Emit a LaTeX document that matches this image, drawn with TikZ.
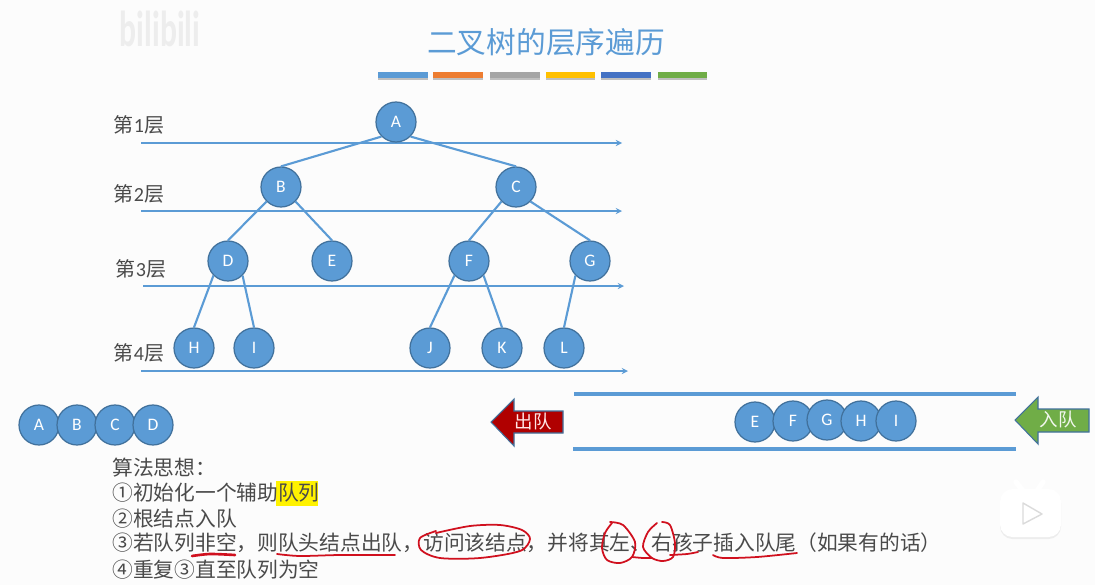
\documentclass[tikz,border=0pt]{standalone}
\usepackage{xcolor}
\usepackage{fontspec}
\setmainfont{Noto Sans CJK SC}
\newfontfamily\latinfont{Carlito}
\usetikzlibrary{shapes,arrows}
\definecolor{nodeblue}{HTML}{5B9BD5}
\definecolor{nodeedge}{HTML}{41719C}
\definecolor{textgray}{HTML}{4A4A4A}
\definecolor{penred}{HTML}{D0101E}
\definecolor{outred}{HTML}{B00000}
\definecolor{ingreen}{HTML}{70AD47}
\begin{document}
\begin{tikzpicture}[x=0.02cm,y=-0.02cm]
			\tikzset{noeud/.style={circle, draw=nodeedge, fill=nodeblue, line width=0.7pt, minimum size=0.8cm, inner sep=0pt, text=white, font=\latinfont\fontsize{10}{11}\selectfont},
				branche/.style={line width=1.2pt, nodeblue},
				niveau/.style={->, >=stealth, line width=0.6pt, nodeblue},
				couche/.style={text=textgray, inner sep=0pt, font=\fontsize{11.4}{13}\selectfont},
				ligne/.style={anchor=west, text=textgray, inner sep=0pt, font=\fontsize{11.8}{14}\selectfont},
				tuyau/.style={line width=2pt, nodeblue},
				stylo/.style={penred, line width=1pt, line cap=round}};
			\useasboundingbox (0,0) rectangle (1095,585);
			\fill[white!99!black] (0,0) rectangle (1095,585);
			\node[text=black!7, inner sep=0pt, font=\latinfont\bfseries\fontsize{18}{20}\selectfont] (logo) at (160,29) {\scalebox{1}[1.6]{bilibili}};
			\node[text=nodeblue, inner sep=0pt, font=\fontsize{16.9}{20}\selectfont] (titre) at (546,42) {二叉树的层序遍历};
			\foreach \xa/\xb/\coul in {378/428/5B9BD5,433/483/ED7D31,490/540/A5A5A5,546/595/FFC000,601/651/4472C4,658/707/70AD47}{
				\definecolor{tmpcoul}{HTML}{\coul}
				\fill[black!25] (\xa,74) rectangle (\xb,80);
				\fill[tmpcoul] (\xa,72) rectangle (\xb,78);
			}
			\foreach \nom/\xa/\xb/\y in {a/141/622/143,b/141/622/211,c/143/624/286,d/141/628/371}{
				\coordinate (debut\nom) at (\xa,\y);
				\coordinate (fin\nom) at (\xb,\y);
				\draw[niveau] (debut\nom) -- (fin\nom);
			}
			\node[couche] (couche1) at (139,125) {第{\latinfont 1}层};
			\node[couche] (couche2) at (139,194) {第{\latinfont 2}层};
			\node[couche] (couche3) at (141,269) {第{\latinfont 3}层};
			\node[couche] (couche4) at (139,353) {第{\latinfont 4}层};
			\node[noeud] (A) at (396,122) {A};
			\node[noeud] (B) at (281,187) {B};
			\node[noeud] (C) at (516,187) {C};
			\node[noeud] (D) at (228,261) {D};
			\node[noeud] (E) at (332,261) {E};
			\node[noeud] (F) at (469,261) {F};
			\node[noeud] (G) at (590,261) {G};
			\node[noeud] (H) at (194,348) {H};
			\node[noeud] (I) at (254,348) {I};
			\node[noeud] (J) at (430,348) {J};
			\node[noeud] (K) at (502,348) {K};
			\node[noeud] (L) at (564,348) {L};
			\foreach \a/\b in {A/B,B/D,C/F,D/H,F/J,G/L}
				\draw[branche] (\a.south west) -- (\b.north);
			\foreach \a/\b in {A/C,B/E,C/G,D/I,F/K}
				\draw[branche] (\a.south east) -- (\b.north);
			\node[noeud] (sortieA) at (39,425) {A};
			\node[noeud] (sortieB) at (77,425) {B};
			\node[noeud] (sortieC) at (115,425) {C};
			\node[noeud] (sortieD) at (153,425) {D};
			\coordinate (hautg) at (574,394);
			\coordinate (hautd) at (1016,394);
			\coordinate (basg) at (573,449);
			\coordinate (basd) at (1016,449);
			\draw[tuyau] (hautg) -- (hautd);
			\draw[tuyau] (basg) -- (basd);
			\node[noeud] (fileE) at (755,422) {E};
			\node[noeud] (fileF) at (793,421) {F};
			\node[noeud] (fileG) at (827,420) {G};
			\node[noeud] (fileH) at (861,421) {H};
			\node[noeud] (fileI) at (896,421) {I};
			\draw[fill=outred, draw=nodeedge, line width=0.6pt] (491,422) -- (514,399) -- (514,411) -- (563,411) -- (563,433) -- (514,433) -- (514,446) -- cycle;
			\node[text=white!90!red, inner sep=0pt, font=\fontsize{10.5}{12}\selectfont] (sortie) at (533,422) {出队};
			\draw[fill=ingreen, draw=nodeedge, line width=0.6pt] (1015,420) -- (1038,397) -- (1038,409) -- (1089,409) -- (1089,432) -- (1038,432) -- (1038,444) -- cycle;
			\node[text=white!90!ingreen, inner sep=0pt, font=\fontsize{10.5}{12}\selectfont] (entree) at (1058,420) {入队};
			\fill[yellow] (276,481) rectangle (318,506);
			\node[ligne] (algo0) at (112,468) {算法思想：};
			\node[ligne] (algo1) at (112,493) {①初始化一个辅助队列};
			\node[ligne] (algo2) at (112,519) {②根结点入队};
			\node[ligne] (algo3) at (112,543) {③若队列非空，则队头结点出队，访问该结点，并将其左、右孩子插入队尾（如果有的话）};
			\node[ligne] (algo4) at (112,570) {④重复③直至队列为空};
			\draw[stylo, line width=1.5pt] plot[smooth] coordinates {(192,556) (210,554) (235,555)};
			\draw[stylo] plot[smooth] coordinates {(277,554) (300,556) (340,555) (395,555)};
			\draw[stylo] plot[smooth] coordinates {(436,533) (470,526) (500,525) (522,530) (530,539) (520,551) (480,558) (440,558) (421,550) (420,538) (436,531)};
			\draw[stylo] plot[smooth] coordinates {(610,522) (623,525) (635,542) (632,557) (620,563) (607,560) (602,548) (605,533) (612,523)};
			\draw[stylo] plot[smooth] coordinates {(632,557) (643,558) (652,558)};
			\draw[stylo] plot[smooth] coordinates {(662,522) (670,525) (675,543) (673,557) (663,561) (652,558) (643,547) (648,532) (657,523)};
			\draw[stylo] plot[smooth] coordinates {(670,555) (687,554) (698,552)};
			\draw[stylo] plot[smooth] coordinates {(713,555) (723,558) (757,557) (797,553)};
			\draw[white, line width=3pt, line cap=round] (1016,482) -- (1023,491);
			\draw[white, line width=3pt, line cap=round] (1043,482) -- (1037,491);
			\fill[black!7, rounded corners=0.25cm] (1000,491) rectangle (1061,539);
			\fill[white, rounded corners=0.25cm] (1000,489) rectangle (1061,537);
			\draw[black!14, fill=white, line width=0.8pt, line join=round] (1023,503) -- (1023,524) -- (1042,514) -- cycle;
			\end{tikzpicture}
\end{document}
